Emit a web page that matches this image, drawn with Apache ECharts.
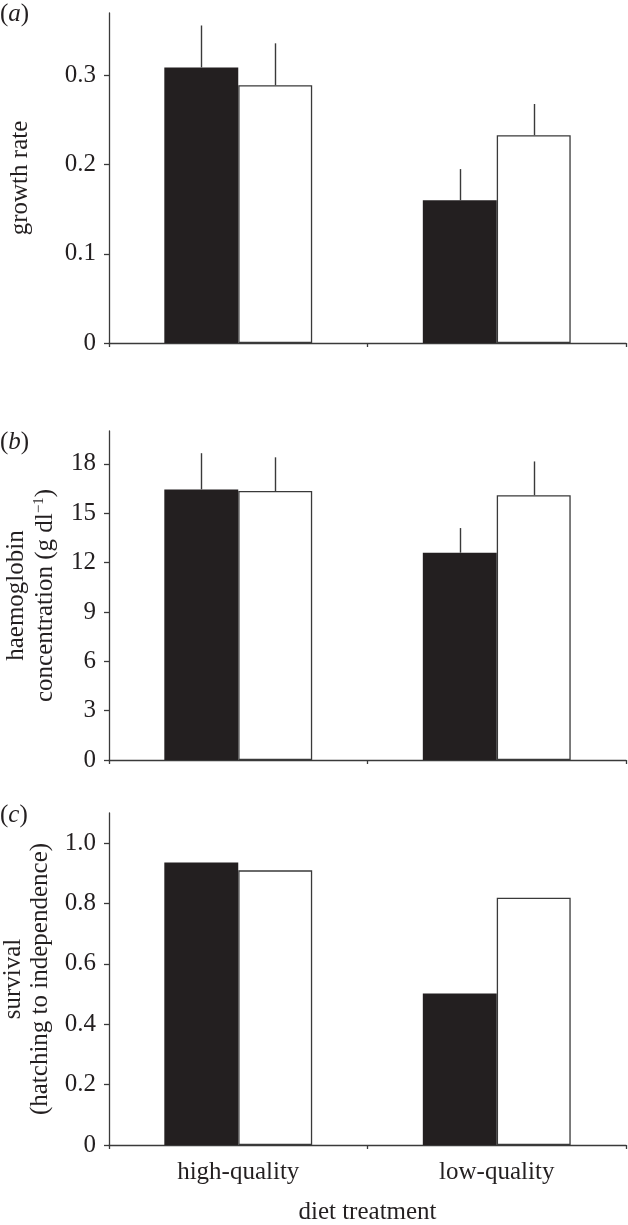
<!DOCTYPE html>
<html>
<head>
<meta charset="utf-8">
<style>
html,body{margin:0;padding:0;background:#fff;}
#chart{width:628px;height:1225px;}
</style>
<script src="https://cdn.jsdelivr.net/npm/echarts@6/dist/echarts.min.js"></script>
</head>
<body>
<div id="chart"></div>
<script>
// ---- data ----
const categories = ['high-quality', 'low-quality'];

const growthBlack = [0.309, 0.160];
const growthWhite = [0.289, 0.233];
const growthBlackSE = [0.047, 0.035];
const growthWhiteSE = [0.047, 0.035];

const haemoBlack = [16.45, 12.6];
const haemoWhite = [16.35, 16.1];
const haemoBlackSE = [2.2, 1.5];
const haemoWhiteSE = [2.05, 2.05];

const survBlack = [0.936, 0.502];
const survWhite = [0.910, 0.819];

const ticksA = [0, 0.1, 0.2, 0.3];
const ticksB = [0, 3, 6, 9, 12, 15, 18];
const ticksC = [0, 0.2, 0.4, 0.6, 0.8, 1.0];

// ---- styles ----
const FONT = "'Liberation Serif', 'Times New Roman', serif";
const FS = 25;
const INK = '#231f20';
const LINE = '#3a3a3a';
const BAR_W = 0.286; // fraction of category band

const chart = echarts.init(document.getElementById('chart'), null, {renderer: 'canvas'});

function xAxis(gi, showLabels) {
  const ax = {
    type: 'category', gridIndex: gi, data: categories,
    axisLine: {show: true, lineStyle: {color: LINE, width: 1.3}},
    axisTick: {show: true, length: 4, lineStyle: {color: LINE, width: 1.3}},
    axisLabel: {show: showLabels, color: INK, fontFamily: FONT, fontSize: FS, margin: 15},
    splitLine: {show: false}
  };
  if (showLabels) {
    ax.name = 'diet treatment';
    ax.nameLocation = 'middle';
    ax.nameGap = 55;
    ax.nameTextStyle = {color: INK, fontFamily: FONT, fontSize: FS};
  }
  return ax;
}

function yAxis(gi, max, ticks, name, nameGap, fmt, rich, lh) {
  return {
    type: 'value', gridIndex: gi, min: 0, max: max,
    name: name, nameLocation: 'middle', nameRotate: 90, nameGap: nameGap,
    nameTextStyle: Object.assign({color: INK, fontFamily: FONT, fontSize: FS, lineHeight: lh || 27}, rich ? {rich: rich} : {}),
    axisLine: {show: true, lineStyle: {color: LINE, width: 1.3}},
    axisTick: {show: true, length: 5, inside: false, customValues: ticks, lineStyle: {color: LINE, width: 1.3}},
    axisLabel: {color: INK, fontFamily: FONT, fontSize: FS, margin: 13, customValues: ticks, formatter: fmt},
    splitLine: {show: false}
  };
}

function bars(gi, values, fill) {
  return {
    type: 'bar', xAxisIndex: gi, yAxisIndex: gi, data: values,
    barWidth: (BAR_W * 100) + '%', barGap: '0%',
    itemStyle: fill === 'black'
      ? {color: INK, borderColor: INK, borderWidth: 0}
      : {color: '#ffffff', borderColor: LINE, borderWidth: 1.3},
    emphasis: {disabled: true},
    z: 2
  };
}

function errors(gi, means, se, side) {
  return {
    type: 'custom', xAxisIndex: gi, yAxisIndex: gi,
    data: means.map((m, i) => [i, m, m + se[i]]),
    renderItem: function (params, api) {
      const p0 = api.coord([api.value(0), api.value(1)]);
      const p1 = api.coord([api.value(0), api.value(2)]);
      const band = api.size([1, 0])[0];
      const x = Math.round(p0[0] + side * band * BAR_W / 2) + 0.5;
      return {
        type: 'line',
        shape: {x1: x, y1: p0[1], x2: x, y2: p1[1]},
        style: {stroke: LINE, lineWidth: 1.4}
      };
    },
    z: 5
  };
}

const fmtA = v => v === 0 ? '0' : v.toFixed(1);
const fmtB = v => String(v);
const fmtC = v => v === 0 ? '0' : v.toFixed(1);

const panelLabel = (letter, top) => ({
  type: 'text', left: 0, top: top,
  style: {
    text: '{n|(}{i|' + letter + '}{n|)}',
    rich: {
      n: {fontFamily: FONT, fontSize: FS, fill: INK},
      i: {fontFamily: FONT, fontSize: FS, fontStyle: 'italic', fill: INK}
    }
  }
});

const option = {
  backgroundColor: '#ffffff',
  animation: false,
  grid: [
    {left: 109, right: 2, top: 13, height: 330, outerBoundsMode: 'none', containLabel: false},
    {left: 109, right: 2, top: 431, height: 329, outerBoundsMode: 'none', containLabel: false},
    {left: 109, right: 2, top: 813, height: 332, outerBoundsMode: 'none', containLabel: false}
  ],
  xAxis: [xAxis(0, false), xAxis(1, false), xAxis(2, true)],
  yAxis: [
    yAxis(0, 0.37, ticksA, 'growth rate', 75, fmtA),
    yAxis(1, 20, ticksB, '{t|haemoglobin}\n{t|concentration (g dl}{s|−1}{t|)}', 47, fmtB,
      {t: {fontFamily: FONT, fontSize: FS, color: INK, lineHeight: 29},
       s: {fontFamily: FONT, fontSize: 15, color: INK, lineHeight: 29, verticalAlign: 'top', padding: [0, 0, 10, 0]}}, 29),
    yAxis(2, 1.1, ticksC, 'survival\n(hatching to independence)', 52, fmtC, null, 27)
  ],
  graphic: [panelLabel('a', 2), panelLabel('b', 430), panelLabel('c', 803)],
  series: [
    bars(0, growthBlack, 'black'), bars(0, growthWhite, 'white'),
    errors(0, growthBlack, growthBlackSE, -1), errors(0, growthWhite, growthWhiteSE, 1),
    bars(1, haemoBlack, 'black'), bars(1, haemoWhite, 'white'),
    errors(1, haemoBlack, haemoBlackSE, -1), errors(1, haemoWhite, haemoWhiteSE, 1),
    bars(2, survBlack, 'black'), bars(2, survWhite, 'white')
  ]
};
chart.setOption(option);
</script>
</body>
</html>
